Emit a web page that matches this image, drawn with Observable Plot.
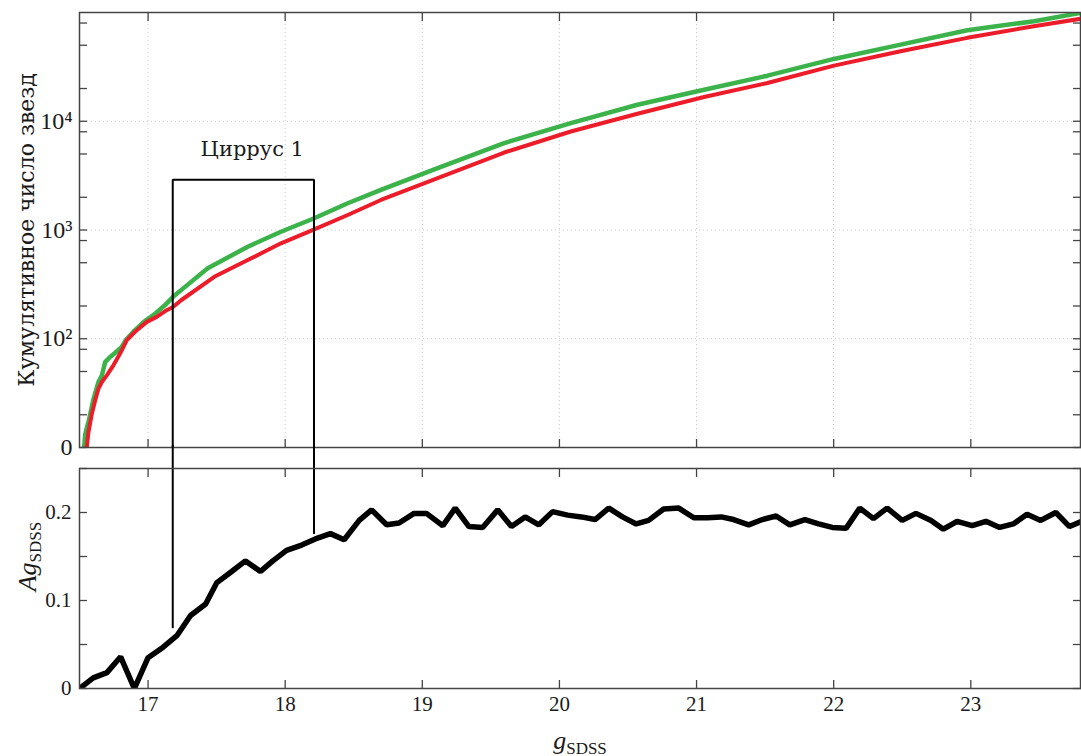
<!DOCTYPE html>
<html><head><meta charset="utf-8">
<script src="https://cdn.jsdelivr.net/npm/d3@7"></script>
<script src="https://cdn.jsdelivr.net/npm/@observablehq/plot@0.6"></script>
<style>
body{margin:0;background:#fff;}
#chart svg{display:block;overflow:visible;}
</style>
</head><body><div id="chart"></div>
<script>
// ---- data ----
const greenG = [16.534, 16.541, 16.558, 16.565, 16.601, 16.638, 16.663, 16.687, 16.723, 16.759, 16.808, 16.84, 16.893, 16.978, 17.039, 17.124, 17.182, 17.241, 17.435, 17.727, 17.969, 18.212, 18.456, 18.698, 19.112, 19.597, 20.083, 20.569, 21.055, 21.517, 22.002, 22.488, 22.974, 23.46, 23.8];
const greenN = [10, 13, 16, 17, 27.5, 40, 46, 61, 68, 74, 84, 98, 116, 146, 165, 204, 243, 280, 444, 702, 964, 1282, 1763, 2339, 3707, 6295, 9620, 14190, 19500, 26240, 37410, 50700, 68710, 83180, 99000];
const redG = [16.553, 16.565, 16.59, 16.614, 16.638, 16.663, 16.699, 16.747, 16.796, 16.845, 16.905, 16.991, 17.063, 17.136, 17.182, 17.241, 17.483, 17.727, 17.969, 18.212, 18.456, 18.698, 19.112, 19.597, 20.083, 20.569, 21.055, 21.517, 22.002, 22.488, 22.974, 23.46, 23.8];
const redN = [10, 13.8, 20.4, 27.1, 34.8, 40, 46, 57, 73, 97, 116, 143, 159, 183, 196, 226, 371, 529, 754, 1014, 1374, 1889, 2998, 5157, 8054, 11720, 16710, 22490, 32500, 43980, 58480, 74820, 87500];

const agG = [16.50, 16.60, 16.70, 16.80, 16.90, 17.00, 17.11, 17.21, 17.31, 17.42, 17.50, 17.61, 17.71, 17.82, 17.91, 18.01, 18.12, 18.22, 18.33, 18.43, 18.54, 18.63, 18.74, 18.83, 18.94, 19.03, 19.15, 19.24, 19.34, 19.44, 19.55, 19.65, 19.75, 19.85, 19.95, 20.06, 20.16, 20.26, 20.36, 20.46, 20.56, 20.65, 20.76, 20.87, 20.98, 21.08, 21.18, 21.27, 21.38, 21.48, 21.58, 21.68, 21.79, 21.89, 21.99, 22.09, 22.19, 22.29, 22.39, 22.50, 22.60, 22.71, 22.80, 22.90, 23.01, 23.11, 23.21, 23.31, 23.41, 23.51, 23.62, 23.72, 23.81];
const agV = [0.0, 0.012, 0.018, 0.036, 0.0, 0.035, 0.047, 0.060, 0.083, 0.096, 0.120, 0.133, 0.145, 0.133, 0.145, 0.157, 0.163, 0.170, 0.176, 0.169, 0.191, 0.203, 0.186, 0.188, 0.199, 0.199, 0.185, 0.205, 0.184, 0.183, 0.203, 0.184, 0.195, 0.186, 0.201, 0.197, 0.195, 0.192, 0.205, 0.195, 0.187, 0.191, 0.204, 0.205, 0.194, 0.194, 0.195, 0.192, 0.186, 0.192, 0.196, 0.186, 0.192, 0.187, 0.183, 0.182, 0.205, 0.193, 0.205, 0.191, 0.199, 0.191, 0.181, 0.190, 0.185, 0.190, 0.183, 0.187, 0.198, 0.191, 0.200, 0.184, 0.190];

const xTicks = [17, 18, 19, 20, 21, 22, 23];
const xTickLabels = ["17", "18", "19", "20", "21", "22", "23"];
const topMajor = [10, 100, 1000, 10000];
const topMajorLabels = ["0", "10²", "10³", "10⁴"];
const topMinor = [20, 50, 80, 200, 500, 800, 2000, 5000, 8000, 20000, 50000, 80000];
const botMajor = [0, 0.1, 0.2];
const botMajorLabels = ["0", "0.1", "0.2"];
const botMinor = [0.05, 0.15, 0.25];

const cirrusG = [17.18, 18.21];      // box edges
const cirrusTopN = 2900;             // box top (counts)
const cirrusAgBottom = [0.068, 0.175]; // where the box lines stop in the lower panel
const cirrusLabel = "Циррус 1";
const cirrusLabelPos = {g: 17.76, n: 5500};

const yLabelTop = "Кумулятивное число звезд";

// ---- build ----
const W = 1081;
const FONT = "'Liberation Serif', 'Times New Roman', serif";
const CYR = "'DejaVu Serif', 'Liberation Serif', serif";
const GREEN = "#3cb34a", RED = "#ec1c2a", FRAME = "#444", INK = "#1a1a1a";

const green = greenG.map((g, i) => ({g, n: greenN[i]}));
const red = redG.map((g, i) => ({g, n: redN[i]}));
const ag = agG.map((g, i) => ({g, v: agV[i]}));
const boxTop = [
  {g: cirrusG[0], n: 10}, {g: cirrusG[0], n: cirrusTopN},
  {g: cirrusG[1], n: cirrusTopN}, {g: cirrusG[1], n: 10}
];
const boxBottom = cirrusG.map((g, i) => ({g, v: cirrusAgBottom[i]}));

const grid = {stroke: "#bbb", strokeOpacity: 1, strokeDasharray: "1,3", strokeWidth: 0.8};
const tk = {text: null, label: null, stroke: FRAME, strokeWidth: 1.3, tickSize: -8};

const topPlot = Plot.plot({
  width: W, height: 457,
  marginLeft: 79, marginRight: 1, marginTop: 12, marginBottom: 10,
  style: {fontFamily: FONT, fontSize: "24px", color: INK, background: "white", overflow: "visible"},
  x: {domain: [16.5, 23.8]},
  y: {type: "log", domain: [10, 1e5]},
  marks: [
    Plot.gridX(xTicks, grid),
    Plot.gridY([100, 1000, 10000], grid),
    Plot.line(green, {x: "g", y: "n", stroke: GREEN, strokeWidth: 4.5, clip: true}),
    Plot.line(red, {x: "g", y: "n", stroke: RED, strokeWidth: 4, clip: true}),
    Plot.line(boxTop, {x: "g", y: "n", stroke: "black", strokeWidth: 2, strokeLinejoin: "miter"}),
    Plot.text([cirrusLabel], {x: () => cirrusLabelPos.g, y: () => cirrusLabelPos.n, fontSize: 21, fontFamily: CYR, fill: INK}),
    Plot.axisX(xTicks, {anchor: "bottom", ...tk}),
    Plot.axisX(xTicks, {anchor: "top", ...tk}),
    Plot.axisY([...topMajor, ...topMinor], {anchor: "left", ...tk}),
    Plot.axisY([...topMajor, ...topMinor], {anchor: "right", ...tk}),
    Plot.axisY(topMajor, {anchor: "left", tickSize: 0, tickPadding: 7, label: null, fontSize: 24, fontFamily: FONT,
      tickFormat: d => topMajorLabels[topMajor.indexOf(d)]}),
    Plot.text([yLabelTop], {frameAnchor: "left", textAnchor: "middle", lineAnchor: "middle", rotate: -90, dx: -53,
      fontSize: 22, fontFamily: CYR, fill: INK}),
    Plot.frame({stroke: FRAME, strokeWidth: 1.5})
  ]
});

const botPlot = Plot.plot({
  width: W, height: 299,
  marginLeft: 79, marginRight: 1, marginTop: 11, marginBottom: 68,
  style: {fontFamily: FONT, fontSize: "20px", color: INK, background: "white", overflow: "visible"},
  x: {domain: [16.5, 23.8]},
  y: {domain: [0, 0.25]},
  marks: [
    Plot.line(ag, {x: "g", y: "v", stroke: "black", strokeWidth: 5.5, strokeLinejoin: "miter", clip: true}),
    Plot.ruleX(boxBottom, {x: "g", y1: "v", y2: 0.276, stroke: "black", strokeWidth: 2}),
    Plot.axisX(xTicks, {anchor: "bottom", ...tk}),
    Plot.axisX(xTicks, {anchor: "top", ...tk}),
    Plot.axisX(xTicks, {anchor: "bottom", tickSize: 0, tickPadding: 8, label: null, fontSize: 21, fontFamily: FONT,
      tickFormat: d => xTickLabels[xTicks.indexOf(d)]}),
    Plot.axisY([...botMajor, ...botMinor], {anchor: "left", ...tk}),
    Plot.axisY([...botMajor, ...botMinor], {anchor: "right", ...tk}),
    Plot.axisY(botMajor, {anchor: "left", tickSize: 0, tickPadding: 8, label: null, fontSize: 21, fontFamily: FONT,
      tickFormat: d => botMajorLabels[botMajor.indexOf(d)]}),
    Plot.text(["Ag"], {frameAnchor: "left", textAnchor: "middle", lineAnchor: "middle", rotate: -90, dx: -52, dy: -22,
      fontSize: 26, fontFamily: FONT, fill: INK}),
    Plot.text(["g"], {frameAnchor: "bottom", textAnchor: "middle", lineAnchor: "middle", dy: 52,
      fontSize: 26, fontFamily: FONT, fill: INK}),
    Plot.frame({stroke: FRAME, strokeWidth: 1.5})
  ]
});

// subscripts for the axis titles
function richLabel(svg, content, sub) {
  d3.select(svg).selectAll("text")
    .filter(function() { return this.textContent === content && this.children.length === 0; })
    .each(function() {
      const t = d3.select(this);
      t.text(null);
      t.append("tspan").attr("font-style", "italic").text(content);
      t.append("tspan").attr("font-size", 17).attr("dy", "0.28em").text(sub);
    });
}
richLabel(botPlot, "Ag", "SDSS");
richLabel(botPlot, "g", "SDSS");

document.getElementById("chart").append(topPlot, botPlot);
</script>
</body></html>
